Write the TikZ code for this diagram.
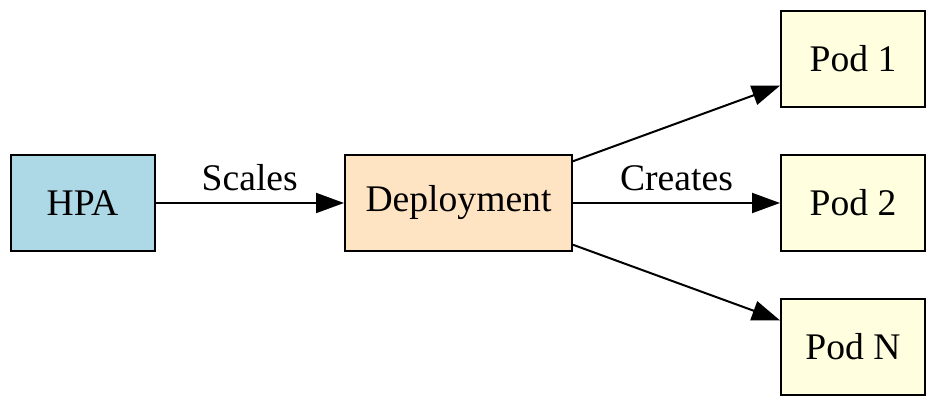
\documentclass[tikz,border=0pt]{standalone}
\usepackage{fontspec}
\setmainfont{Liberation Serif}
\usetikzlibrary{arrows.meta}

\definecolor{hpablue}{HTML}{ADD8E6}
\definecolor{deporange}{HTML}{FFE4C4}
\definecolor{podyellow}{HTML}{FFFFE0}

\tikzstyle{flow}=[line width=1pt,draw=black,{Triangle[length=14pt,width=10pt]}-]

\begin{document}
\begin{tikzpicture}[x=0.5pt, y=-0.5pt, every node/.style={font=\fontsize{18.8}{22}\selectfont}]
\useasboundingbox (0,0) rectangle (936,406);
\tikzstyle{box}=[shape=rectangle,draw=black,line width=1pt,inner sep=0pt,minimum height=48pt]
\tikzstyle{small}=[box,minimum width=72pt]
\tikzstyle{tag}=[midway,anchor=base,yshift=6pt,inner sep=0pt]
% controller and deployment
\node[small,fill=hpablue] (hpa) at (82.5,203) {HPA};
\node[box,fill=deporange,minimum width=113.5pt] (dep) at (458.5,203) {Deployment}
    edge [flow] node[tag] {Scales} (hpa);
% pods
\node[small,fill=podyellow] (pod1) at (853,59) {Pod 1}
    edge [flow] (dep);
\node[small,fill=podyellow] (pod2) at (853,203) {Pod 2}
    edge [flow] node[tag] {Creates} (dep);
\node[small,fill=podyellow] (podn) at (853,347) {Pod N}
    edge [flow] (dep);
\end{tikzpicture}
\end{document}
